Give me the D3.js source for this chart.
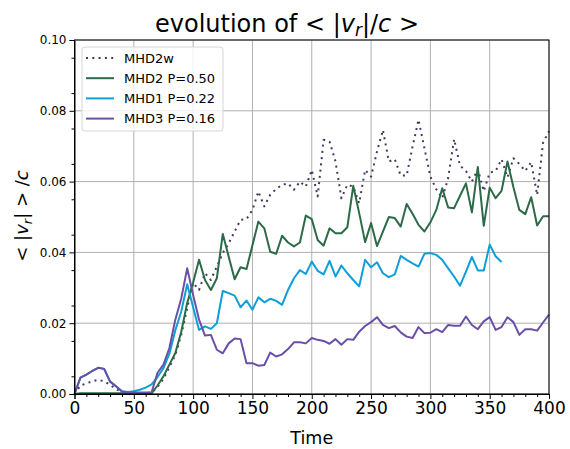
<!DOCTYPE html>
<html>
<head>
<meta charset="utf-8">
<script src="https://cdnjs.cloudflare.com/ajax/libs/d3/7.8.5/d3.min.js"></script>
<style>
body { margin: 0; background: #fff; }
svg { font-family: 'DejaVu Sans', sans-serif; }
</style>
</head>
<body>
<div id="chart"></div>
<script>
//DATA
var time = [0,5,10,15,20,25,30,35,40,45,50,55,60,65,70,75,80,85,90,95,100,105,110,115,120,125,130,135,140,145,150,155,160,165,170,175,180,185,190,195,200,205,210,215,220,225,230,235,240,245,250,255,260,265,270,275,280,285,290,295,300,305,310,315,320,325,330,335,340,345,350,355,360,365,370,375,380,385,390,395,400];

var mhd2w = [0,0.0024,0.003,0.0036,0.004,0.0036,0.0026,0.0014,0.0005,0.0003,0.0003,0.0003,0.0003,0.0004,0.002,0.0043,0.0076,0.011,0.0167,0.0243,0.0314,0.0294,0.0341,0.0322,0.036,0.0398,0.0426,0.0459,0.0492,0.0494,0.052,0.0572,0.053,0.0563,0.0579,0.0591,0.0595,0.0577,0.06,0.0586,0.0633,0.0558,0.0718,0.0713,0.0657,0.0553,0.0591,0.0586,0.0539,0.0633,0.0614,0.0685,0.0746,0.0657,0.0663,0.0617,0.0617,0.0699,0.0775,0.0694,0.0614,0.0578,0.0553,0.061,0.072,0.0645,0.063,0.06,0.0635,0.0573,0.0625,0.063,0.0663,0.0612,0.0666,0.065,0.063,0.0655,0.0562,0.071,0.0742];

var mhd2 = [0,0.0002,0.0002,0.0002,0.0002,0.0002,0.0002,0.0002,0.0002,0.0002,0.0002,0.0002,0.0002,0.0002,0.0024,0.005,0.0083,0.0116,0.0176,0.0257,0.0315,0.0379,0.0322,0.0294,0.0327,0.0452,0.0388,0.0324,0.0358,0.0353,0.042,0.0487,0.0468,0.0402,0.0396,0.0447,0.0428,0.0417,0.0428,0.0504,0.0494,0.0435,0.0419,0.0468,0.0454,0.0454,0.0471,0.0588,0.0511,0.0429,0.0483,0.0418,0.0459,0.05,0.0497,0.0473,0.0537,0.0509,0.0478,0.0459,0.0485,0.052,0.0581,0.0527,0.0525,0.056,0.0595,0.0513,0.0641,0.0475,0.0583,0.0553,0.0574,0.0657,0.0584,0.052,0.0508,0.0556,0.0476,0.0502,0.0502];

//MHD1 stops at t = 360
var mhd1 = [0,0.0046,0.0055,0.0065,0.0074,0.0071,0.0035,0.0022,0.0008,0.0006,0.0008,0.0012,0.0018,0.0027,0.0048,0.0073,0.0114,0.018,0.0233,0.031,0.0245,0.0181,0.0191,0.0184,0.02,0.0291,0.0285,0.0278,0.0245,0.0264,0.0238,0.0273,0.0259,0.0269,0.0263,0.0252,0.0294,0.0327,0.035,0.0339,0.0374,0.0348,0.0338,0.0376,0.0332,0.0363,0.0341,0.0322,0.0304,0.0379,0.0358,0.0372,0.0341,0.033,0.0338,0.039,0.0379,0.0369,0.036,0.0396,0.0398,0.0393,0.0379,0.0355,0.0332,0.0306,0.0346,0.0387,0.0349,0.0349,0.0422,0.0389,0.0373];

var mhd3 = [0,0.0046,0.0055,0.0065,0.0074,0.0071,0.0035,0.0022,0.0007,0.0004,0.0004,0.0004,0.0004,0.0005,0.006,0.0083,0.013,0.021,0.027,0.0355,0.028,0.021,0.0165,0.0167,0.0125,0.0115,0.0143,0.0157,0.0155,0.0087,0.0087,0.008,0.0082,0.0117,0.0106,0.0112,0.0127,0.0146,0.0146,0.0143,0.0158,0.0153,0.015,0.0142,0.0155,0.0139,0.0155,0.0153,0.0176,0.0192,0.0203,0.0217,0.0195,0.0186,0.0192,0.0174,0.0162,0.0158,0.0189,0.0172,0.0173,0.0183,0.0175,0.0195,0.0193,0.0193,0.0219,0.0195,0.0183,0.0205,0.0217,0.0181,0.0189,0.0217,0.0203,0.0167,0.0183,0.0183,0.0179,0.0202,0.0224];

var seriesNames = ['MHD2w', 'MHD2 P=0.50', 'MHD1 P=0.22', 'MHD3 P=0.16'];
var xTicks = [0,50,100,150,200,250,300,350,400];
var yTicks = [0,0.02,0.04,0.06,0.08,0.10];

//LAYOUT (names avoid window.top)
var width = 570, height = 449;
var padL = 74.5, padR = 549, padT = 40, padB = 394;

var series = [
	{name: seriesNames[0], values: mhd2w, color: '#463660', dash: '2,4.3'},
	{name: seriesNames[1], values: mhd2, color: '#2c6a48', dash: null},
	{name: seriesNames[2], values: mhd1, color: '#0d9fd8', dash: null},
	{name: seriesNames[3], values: mhd3, color: '#6a4fa7', dash: null}
];

var svg = d3.select('#chart').append('svg')
.attr('width', width)
.attr('height', height);

var x = d3.scaleLinear().domain([0, 400]).range([padL, padR]);
var y = d3.scaleLinear().domain([0, 0.10]).range([padB, padT]);

//GRID
svg.append('g')
.selectAll('line')
.data(xTicks)
.enter()
.append('line')
.attr('x1', function(d){ return x(d); })
.attr('x2', function(d){ return x(d); })
.attr('y1', padT)
.attr('y2', padB)
.attr('stroke', '#b0b0b0')
.attr('stroke-width', 1);

svg.append('g')
.selectAll('line')
.data(yTicks)
.enter()
.append('line')
.attr('y1', function(d){ return y(d); })
.attr('y2', function(d){ return y(d); })
.attr('x1', padL)
.attr('x2', padR)
.attr('stroke', '#b0b0b0')
.attr('stroke-width', 1);

//LINES
var line = d3.line()
.x(function(d){ return x(d[0]); })
.y(function(d){ return y(d[1]); });

series.forEach(function(s){
	var pts = s.values.map(function(v, i){ return [time[i], v]; });
	svg.append('path')
	.datum(pts)
	.attr('d', line)
	.attr('fill', 'none')
	.attr('stroke', s.color)
	.attr('stroke-width', 2)
	.attr('stroke-linejoin', 'round')
	.attr('stroke-dasharray', s.dash);
});

//AXES
var xAxis = svg.append('g')
.attr('transform', 'translate(0,' + padB + ')')
.call(d3.axisBottom(x).tickValues(xTicks).tickSize(5).tickPadding(3).tickFormat(d3.format('d')));
xAxis.selectAll('text').attr('font-size', 17).attr('font-family', 'DejaVu Sans').attr('fill', '#000');

svg.append('g')
.attr('transform', 'translate(0,' + padB + ')')
.call(d3.axisBottom(x).tickValues(d3.range(0, 401, 10).filter(function(d){ return d % 50; })).tickSize(3).tickFormat(''))
.select('.domain').remove();

var yAxis = svg.append('g')
.attr('transform', 'translate(' + padL + ',0)')
.call(d3.axisLeft(y).tickValues(yTicks).tickSize(5).tickPadding(3).tickFormat(d3.format('.2f')));
yAxis.selectAll('text').attr('font-size', 12).attr('font-family', 'DejaVu Sans').attr('fill', '#000');

svg.append('g')
.attr('transform', 'translate(' + padL + ',0)')
.call(d3.axisLeft(y).tickValues(d3.range(0.005, 0.1, 0.01)).tickSize(3).tickFormat(''))
.select('.domain').remove();

svg.selectAll('.domain').attr('stroke', '#000');

//frame
svg.append('rect')
.attr('x', padL)
.attr('y', padT)
.attr('width', padR - padL)
.attr('height', padB - padT)
.attr('fill', 'none')
.attr('stroke', '#000')
.attr('stroke-width', 1);

//TITLE
var title = svg.append('text')
.attr('x', 155)
.attr('y', 32)
.attr('font-size', 24)
.attr('fill', '#000');
title.append('tspan').text('evolution of  < |');
title.append('tspan').attr('font-style', 'italic').text('v');
title.append('tspan').attr('font-style', 'italic').attr('font-size', 17).attr('dy', 4).text('r');
title.append('tspan').attr('dy', -4).text('|/');
title.append('tspan').attr('font-style', 'italic').text('c');
title.append('tspan').text(' >');

//X LABEL
svg.append('text')
.attr('x', (padL + padR) / 2)
.attr('y', 444)
.attr('text-anchor', 'middle')
.attr('font-size', 17.5)
.attr('fill', '#000')
.text('Time');

//Y LABEL
var ylab = svg.append('text')
.attr('transform', 'translate(28,216) rotate(-90)')
.attr('text-anchor', 'middle')
.attr('font-size', 18)
.attr('fill', '#000');
ylab.append('tspan').text('< |');
ylab.append('tspan').attr('font-style', 'italic').text('v');
ylab.append('tspan').attr('font-style', 'italic').attr('font-size', 13).attr('dy', 4).text('r');
ylab.append('tspan').attr('dy', -4).text('| > /');
ylab.append('tspan').attr('font-style', 'italic').text('c');

//LEGEND
var legend = svg.append('g').attr('transform', 'translate(82,47)');
legend.append('rect')
.attr('width', 141)
.attr('height', 84)
.attr('rx', 3)
.attr('fill', '#fff')
.attr('fill-opacity', 0.8)
.attr('stroke', '#d6d6d6');

var items = legend.selectAll('g.item')
.data(series)
.enter()
.append('g')
.attr('class', 'item')
.attr('transform', function(d, i){ return 'translate(0,' + (11 + i * 20.2) + ')'; });

items.append('line')
.attr('x1', 4)
.attr('x2', 32)
.attr('stroke', function(d){ return d.color; })
.attr('stroke-width', 2)
.attr('stroke-dasharray', function(d){ return d.dash; });

items.append('text')
.attr('x', 42)
.attr('dy', '0.35em')
.attr('font-size', 13)
.attr('fill', '#000')
.text(function(d){ return d.name; });
</script>
</body>
</html>
